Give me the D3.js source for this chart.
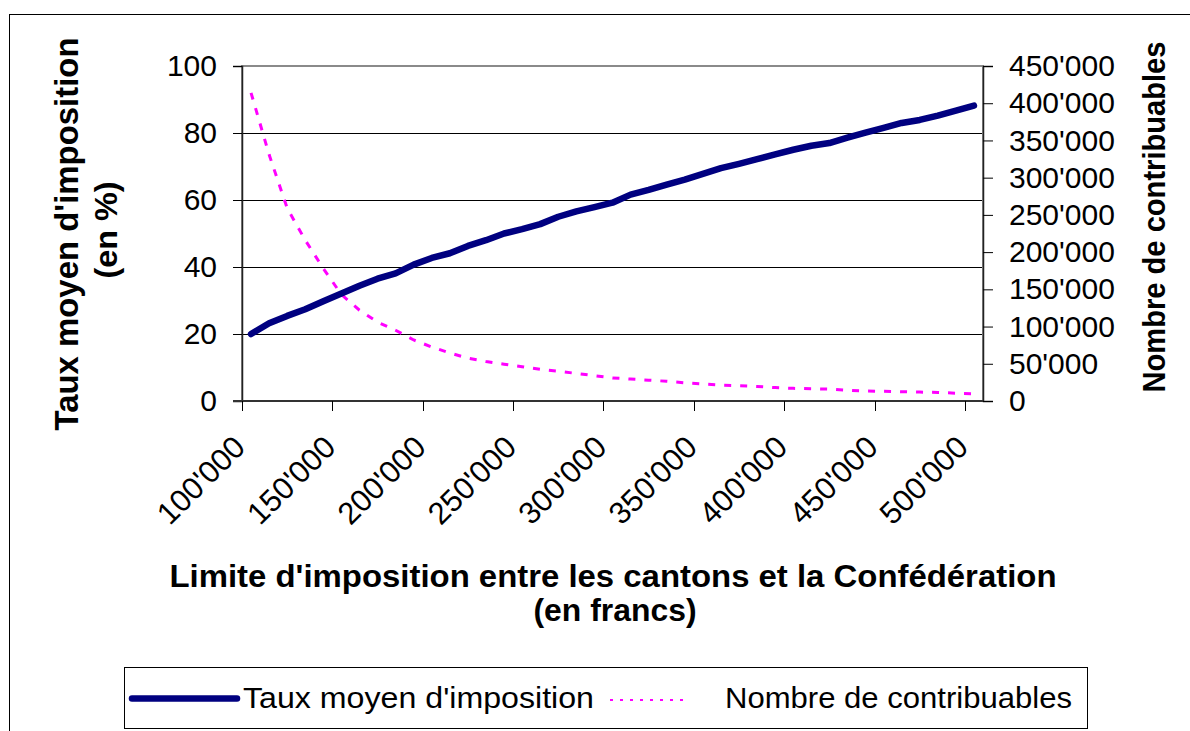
<!DOCTYPE html>
<html>
<head>
<meta charset="utf-8">
<script src="https://cdn.jsdelivr.net/npm/d3@7"></script>
<style>
  body { margin: 0; background: white; }
  text { font-family: "Liberation Sans", Arial, sans-serif; fill: black; }
</style>
</head>
<body>
<svg id="chart" width="1190" height="731"></svg>
<script>
  // limite d'imposition (en francs)
  let categories = [100000, 110000, 120000, 130000, 140000, 150000, 160000, 170000, 180000, 190000,
                    200000, 210000, 220000, 230000, 240000, 250000, 260000, 270000, 280000, 290000,
                    300000, 310000, 320000, 330000, 340000, 350000, 360000, 370000, 380000, 390000,
                    400000, 410000, 420000, 430000, 440000, 450000, 460000, 470000, 480000, 490000,
                    500000];
  // taux moyen d'imposition (en %)
  let tauxMoyen = [20.0, 23.2, 25.4, 27.4, 29.8, 32.1, 34.4, 36.5, 38.1, 40.7,
                   42.7, 44.1, 46.3, 48.0, 50.0, 51.3, 52.8, 55.0, 56.6, 57.9,
                   59.2, 61.6, 63.0, 64.6, 66.1, 67.8, 69.5, 70.8, 72.2, 73.6,
                   75.0, 76.2, 77.0, 78.6, 80.1, 81.5, 83.0, 83.9, 85.2, 86.7,
                   88.2];
  // nombre de contribuables
  let contribuables = [414000, 331000, 259000, 216000, 178000, 143000, 122000, 106000, 95000, 82000,
                       72500, 64500, 57500, 53000, 49500, 46000, 42500, 40000, 37000, 34000,
                       31000, 29500, 28000, 26500, 24500, 23000, 21500, 20500, 19500, 18000,
                       17000, 16500, 16000, 14500, 13500, 13000, 12500, 12000, 11500, 10500,
                       9500];
  let leftTicks = [0, 20, 40, 60, 80, 100];
  let rightTicks = [0, 50000, 100000, 150000, 200000, 250000, 300000, 350000, 400000, 450000];
  let seriesNames = ["Taux moyen d'imposition", "Nombre de contribuables"];

  let svg = d3.select("#chart");
  let plot = {left: 242, right: 983, top: 66, bottom: 401};
  let fontSize = "30px";

  let swiss = d3.formatLocale({decimal: ".", thousands: "'", grouping: [3], currency: ["", ""]});
  let fmt = swiss.format(",d");

  let x = d3.scaleBand().domain(categories).range([plot.left, plot.right]).padding(0);
  let xc = function(d){ return x(d) + x.bandwidth() / 2; };
  let yLeft = d3.scaleLinear().domain([0, 100]).range([plot.bottom, plot.top]);
  let yRight = d3.scaleLinear().domain([0, 450000]).range([plot.bottom, plot.top]);

  // outer frame
  svg.append("rect").attr("x", 9.5).attr("y", 14.5).attr("width", 1300).attr("height", 900)
    .attr("fill", "white").attr("stroke", "black");

  // gridlines
  svg.selectAll(".grid").data(leftTicks.filter(function(d){ return d > 0 && d < 100; }))
    .enter().append("line")
    .attr("x1", plot.left).attr("x2", plot.right)
    .attr("y1", function(d){ return Math.round(yLeft(d)) + 0.5; })
    .attr("y2", function(d){ return Math.round(yLeft(d)) + 0.5; })
    .attr("stroke", "black").attr("stroke-width", 1);

  // plot area border
  svg.append("rect").attr("x", plot.left).attr("y", plot.top)
    .attr("width", plot.right - plot.left).attr("height", plot.bottom - plot.top)
    .attr("fill", "none").attr("stroke", "#8a8a8a").attr("stroke-width", 2);

  // left axis
  let leftAxisG = svg.append("g").attr("transform", "translate(" + plot.left + ",0)")
    .call(d3.axisLeft(yLeft).tickValues(leftTicks).tickSize(9).tickPadding(16).tickFormat(d3.format("d")));
  leftAxisG.select(".domain").attr("stroke", "#222").attr("stroke-width", 1.5);
  leftAxisG.selectAll("text").style("font-size", fontSize).attr("font-family", null);

  // right axis
  let rightAxisG = svg.append("g").attr("transform", "translate(" + plot.right + ",0)")
    .call(d3.axisRight(yRight).tickValues(rightTicks).tickSize(10).tickPadding(16).tickFormat(fmt));
  rightAxisG.select(".domain").attr("stroke", "#222").attr("stroke-width", 1.5);
  rightAxisG.selectAll("text").style("font-size", fontSize).attr("font-family", null);

  // bottom axis: ticks between categories, every 5th
  let labelled = categories.filter(function(d, i){ return i % 5 === 0; });
  svg.append("line").attr("x1", plot.left - 9).attr("x2", plot.right)
    .attr("y1", plot.bottom).attr("y2", plot.bottom).attr("stroke", "#333").attr("stroke-width", 2);
  svg.selectAll(".xtick").data(labelled).enter().append("line")
    .attr("x1", function(d){ return Math.round(x(d)) + 0.5; })
    .attr("x2", function(d){ return Math.round(x(d)) + 0.5; })
    .attr("y1", plot.bottom).attr("y2", plot.bottom + 10)
    .attr("stroke", "black");
  svg.selectAll(".xlabel").data(labelled).enter().append("text")
    .attr("transform", function(d){ return "translate(" + (xc(d) - 4) + ",449) rotate(-45)"; })
    .attr("text-anchor", "end")
    .style("font-size", "31px")
    .text(function(d){ return fmt(d); });

  // series
  let lineLeft = d3.line().x(function(d, i){ return xc(categories[i]); }).y(function(d){ return yLeft(d); });
  let lineRight = d3.line().x(function(d, i){ return xc(categories[i]); }).y(function(d){ return yRight(d); });

  svg.append("path").datum(contribuables).attr("d", lineRight)
    .attr("fill", "none").attr("stroke", "#ff00ff").attr("stroke-width", 3)
    .attr("stroke-dasharray", "7,9");
  svg.append("path").datum(tauxMoyen).attr("d", lineLeft)
    .attr("fill", "none").attr("stroke", "#000080").attr("stroke-width", 6.5)
    .attr("stroke-linejoin", "round").attr("stroke-linecap", "round");

  // axis titles
  function title(text, tx, ty, rot, size, len){
    let t = svg.append("text")
      .attr("transform", "translate(" + tx + "," + ty + ") rotate(" + rot + ")")
      .attr("text-anchor", "middle")
      .style("font-size", size + "px").style("font-weight", "bold")
      .text(text);
    if (len) t.attr("textLength", len).attr("lengthAdjust", "spacingAndGlyphs");
  }
  title("Taux moyen d'imposition", 78, 234, -90, 33, 393);
  title("(en %)", 117, 230, -90, 32, 97);
  title("Nombre de contribuables", 1165, 217, -90, 32, 351);
  title("Limite d'imposition entre les cantons et la Confédération", 613, 587, 0, 31, 887);
  title("(en francs)", 615, 621, 0, 31, 163);

  // legend
  let legend = svg.append("g");
  legend.append("rect").attr("x", 124.5).attr("y", 667.5).attr("width", 963).attr("height", 61)
    .attr("fill", "white").attr("stroke", "black");
  legend.append("line").attr("x1", 132).attr("x2", 237).attr("y1", 698.5).attr("y2", 698.5)
    .attr("stroke", "#000080").attr("stroke-width", 6.5).attr("stroke-linecap", "round");
  legend.append("line").attr("x1", 610).attr("x2", 684).attr("y1", 700).attr("y2", 700)
    .attr("stroke", "#ff00ff").attr("stroke-width", 2.2).attr("stroke-dasharray", "3,7");
  legend.append("text").attr("x", 243).attr("y", 708)
    .attr("textLength", 351).attr("lengthAdjust", "spacingAndGlyphs")
    .style("font-size", "30px").text(seriesNames[0]);
  legend.append("text").attr("x", 725).attr("y", 708)
    .attr("textLength", 347).attr("lengthAdjust", "spacingAndGlyphs")
    .style("font-size", "30px").text(seriesNames[1]);
</script>
</body>
</html>
